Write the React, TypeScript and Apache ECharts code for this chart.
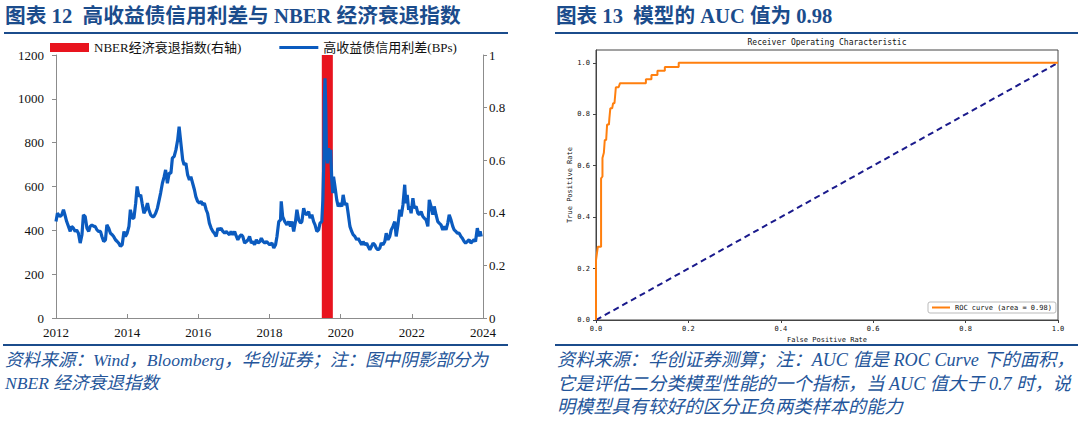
import React, { useEffect, useRef } from 'react';
import * as echarts from 'echarts';

// ---------- Left chart data ----------
const spreadDates = [
  2012.00,2012.04,2012.11,2012.16,2012.21,2012.25,2012.30,2012.35,2012.40,2012.44,
  2012.49,2012.54,2012.58,2012.63,2012.68,2012.73,2012.77,2012.82,2012.87,2012.92,
  2012.96,2013.01,2013.06,2013.10,2013.15,2013.20,2013.25,2013.29,2013.34,2013.39,
  2013.43,2013.48,2013.53,2013.58,2013.62,2013.67,2013.72,2013.76,2013.81,2013.86,
  2013.91,2013.95,2014.00,2014.05,2014.09,2014.14,2014.19,2014.24,2014.28,2014.33,
  2014.38,2014.42,2014.47,2014.52,2014.57,2014.61,2014.66,2014.71,2014.75,2014.80,
  2014.85,2014.90,2014.94,2014.99,2015.04,2015.08,2015.13,2015.18,2015.23,2015.27,
  2015.32,2015.37,2015.42,2015.46,2015.51,2015.56,2015.60,2015.65,2015.70,2015.75,
  2015.79,2015.84,2015.89,2015.93,2015.98,2016.03,2016.08,2016.12,2016.17,2016.22,
  2016.26,2016.31,2016.36,2016.41,2016.45,2016.50,2016.55,2016.59,2016.64,2016.69,
  2016.74,2016.78,2016.83,2016.88,2016.92,2016.97,2017.02,2017.07,2017.11,2017.16,
  2017.21,2017.25,2017.30,2017.35,2017.40,2017.44,2017.49,2017.54,2017.58,2017.63,
  2017.68,2017.73,2017.77,2017.82,2017.87,2017.92,2017.96,2018.01,
  2018.07,2018.12,2018.17,2018.21,2018.26,2018.31,2018.33,2018.37,2018.43,2018.49,
  2018.54,2018.59,2018.63,2018.68,2018.73,2018.77,2018.82,2018.87,2018.91,2018.96,
  2019.00,2019.05,2019.10,2019.14,2019.19,2019.24,2019.28,2019.33,2019.38,2019.42,
  2019.47,2019.50,2019.53,2019.54,2019.56,2019.58,2019.60,2019.63,2019.66,2019.69,
  2019.72,2019.75,2019.78,2019.80,2019.84,2019.89,2019.93,2019.98,2020.03,2020.07,
  2020.12,2020.17,2020.21,2020.26,2020.31,2020.35,2020.40,2020.45,2020.49,2020.54,
  2020.59,2020.63,2020.68,2020.73,2020.77,2020.82,2020.87,2020.91,2020.96,2021.00,
  2021.05,2021.10,2021.14,2021.19,2021.24,2021.28,2021.33,2021.38,2021.42,2021.47,
  2021.52,2021.56,2021.61,2021.66,2021.70,2021.75,2021.80,2021.83,2021.87,2021.91,
  2021.94,2021.98,2022.03,2022.07,2022.12,2022.17,2022.21,2022.26,2022.31,2022.35,
  2022.40,2022.45,2022.49,2022.54,2022.59,2022.63,2022.68,2022.73,2022.77,2022.82,
  2022.87,2022.91,2022.96,2023.01,2023.05,2023.10,2023.15,2023.19,2023.24,2023.28,
  2023.33,2023.38,2023.42,2023.47,2023.51,2023.56,2023.61,2023.66,2023.70,2023.75,
  2023.79,2023.84,2023.89,2023.92,2023.95,
];
const spreadValues = [
  440,478,463,470,494,471,440,418,395,418,
  410,395,402,387,342,380,471,463,410,395,
  418,425,418,418,402,395,395,372,349,357,
  425,410,387,380,372,357,349,342,327,334,
  395,372,387,418,494,456,456,524,600,554,
  562,524,478,494,524,494,471,463,463,478,
  501,539,570,615,645,676,615,661,661,729,
  737,767,813,873,797,722,699,706,653,630,
  645,615,585,554,532,524,532,516,524,494,
  478,433,410,395,387,372,410,402,410,395,
  387,395,387,380,395,380,395,372,357,372,
  380,372,342,349,357,372,342,349,334,357,
  342,349,364,349,342,349,342,334,
  342,319,334,372,440,448,532,463,440,425,
  440,418,440,395,440,494,448,433,440,501,
  478,471,486,456,471,440,425,395,402,433,
  440,539,737,995,1094,965,752,706,775,745,
  767,630,570,645,600,539,509,524,509,562,
  516,524,478,418,395,380,372,357,364,349,
  334,349,334,342,327,311,327,342,334,319,
  311,319,342,334,349,387,357,372,402,418,
  440,372,425,494,463,516,608,524,562,494,
  509,478,547,501,509,478,471,486,463,456,
  448,418,539,509,471,509,471,440,433,425,
  402,418,402,433,471,448,418,402,395,387,
  387,372,364,349,342,349,357,342,349,357,
  349,410,372,395,372,
];
const nberPeriods = [[2019.47, 2019.78]];
const nberValues = [1];
const leftYTicks = [0, 200, 400, 600, 800, 1000, 1200];
const rightYTicks = [0, 0.2, 0.4, 0.6, 0.8, 1];
const xYears = [2012, 2014, 2016, 2018, 2020, 2022, 2024];

// ---------- Right chart data ----------
const rocFpr = [0,0,0.004,0.011,0.011,0.014,0.014,0.017,0.019,0.022,0.024,0.028,0.029,0.031,0.035,0.037,0.040,0.043,0.049,0.052,0.108,0.108,0.120,0.120,0.133,0.133,0.149,0.149,0.179,0.179,1.0];
const rocTpr = [0,0.233,0.285,0.285,0.551,0.558,0.63,0.65,0.70,0.70,0.76,0.76,0.785,0.823,0.823,0.843,0.843,0.905,0.905,0.921,0.921,0.936,0.936,0.953,0.953,0.969,0.969,0.984,0.984,1.0,1.0];
const diagX = [0, 1];
const diagY = [0, 1];
const rocTicks = [0, 0.2, 0.4, 0.6, 0.8, 1.0];

const NBER_NAME = 'NBER经济衰退指数(右轴)';
const SPREAD_NAME = '高收益债信用利差(BPs)';
const ROC_NAME = 'ROC curve (area = 0.98)';

const FONT_SERIF = '"Liberation Serif", "Noto Sans CJK SC", serif';
const FONT_MONO = '"DejaVu Sans Mono", "Noto Sans CJK SC", monospace';
const TITLE_BLUE = '#1B4C8C';
const SRC_BLUE = '#24559A';

function buildOption() {
  const spreadData = spreadDates.map((d, i) => [d, spreadValues[i]]);
  const nberData = nberPeriods.map((p, i) => [p[0], p[1], nberValues[i]]);
  const rocData = rocFpr.map((x, i) => [x, rocTpr[i]]);
  const diagData = diagX.map((x, i) => [x, diagY[i]]);

  const leftAxisLine = { show: true, lineStyle: { color: '#8c8c8c', width: 1 } };
  const serifLabel = { fontFamily: FONT_SERIF, fontSize: 13, color: '#111' };
  const monoLabel = { fontFamily: FONT_MONO, fontSize: 7, color: '#111' };
  const srcText = (text: string, x: number, y: number, size: number) => ({
    type: 'text', x, y,
    style: { text, fontFamily: FONT_SERIF, fontSize: size, fontStyle: 'italic', fill: SRC_BLUE, textVerticalAlign: 'middle' },
  });

  return {
    animation: false,
    backgroundColor: '#fff',
    grid: [
      { left: 56, top: 55, width: 427, height: 263 },
      { left: 596, top: 50, width: 462, height: 270, show: true, borderColor: '#444', borderWidth: 1, backgroundColor: 'transparent' },
    ],
    legend: [
      {
        left: 50, top: 41, padding: 0, itemWidth: 39, itemHeight: 9, itemGap: 38,
        selectedMode: false,
        data: [
          { name: NBER_NAME, icon: 'rect' },
          { name: SPREAD_NAME, icon: 'path://M0,0 L39,0 L39,3 L0,3 Z' },
        ],
        textStyle: { fontFamily: FONT_SERIF, fontSize: 13, color: '#111' },
      },
      {
        left: 928, top: 302, padding: [2, 4, 2, 4], itemWidth: 18, itemHeight: 8,
        selectedMode: false,
        borderColor: '#bbb', borderWidth: 1, borderRadius: 2,
        data: [{ name: ROC_NAME, icon: 'path://M0,0 L18,0 L18,2 L0,2 Z' }],
        textStyle: { fontFamily: FONT_MONO, fontSize: 7, color: '#111' },
      },
    ],
    xAxis: [
      {
        type: 'value', gridIndex: 0, min: xYears[0], max: xYears[xYears.length - 1], interval: 2,
        axisLine: leftAxisLine,
        axisTick: { show: true, inside: true, length: 4, lineStyle: { color: '#8c8c8c' } },
        splitLine: { show: false },
        axisLabel: { ...serifLabel, margin: 8, formatter: (v: number) => String(v) },
      },
      {
        type: 'value', gridIndex: 1, min: 0, max: 1, interval: 0.2,
        axisLine: { show: true, lineStyle: { color: '#444' } },
        axisTick: { show: true, length: 3, lineStyle: { color: '#444' } },
        splitLine: { show: false },
        axisLabel: { ...monoLabel, margin: 5, formatter: (v: number) => v.toFixed(1) },
        name: 'False Positive Rate', nameLocation: 'middle', nameGap: 15,
        nameTextStyle: { fontFamily: FONT_MONO, fontSize: 7, color: '#111' },
      },
    ],
    yAxis: [
      {
        type: 'value', gridIndex: 0, position: 'left', min: leftYTicks[0], max: leftYTicks[leftYTicks.length - 1], interval: 200,
        axisLine: leftAxisLine,
        axisTick: { show: true, length: 4, lineStyle: { color: '#8c8c8c' } },
        splitLine: { show: false },
        axisLabel: { ...serifLabel, margin: 12, formatter: (v: number) => String(v) },
      },
      {
        type: 'value', gridIndex: 0, position: 'right', min: rightYTicks[0], max: rightYTicks[rightYTicks.length - 1], interval: 0.2,
        axisLine: leftAxisLine,
        axisTick: { show: true, length: 4, lineStyle: { color: '#8c8c8c' } },
        splitLine: { show: false },
        axisLabel: { ...serifLabel, margin: 6, formatter: (v: number) => String(Math.round(v * 10) / 10) },
      },
      {
        type: 'value', gridIndex: 1, min: 0, max: 1.05, interval: 0.2,
        axisLine: { show: true, lineStyle: { color: '#444' } },
        axisTick: { show: true, length: 3, lineStyle: { color: '#444' }, customValues: rocTicks },
        splitLine: { show: false },
        axisLabel: { ...monoLabel, margin: 6, customValues: rocTicks, formatter: (v: number) => (v > 1.001 ? '' : v.toFixed(1)) },
        name: 'True Positive Rate', nameLocation: 'middle', nameGap: 22, nameRotate: 90,
        nameTextStyle: { fontFamily: FONT_MONO, fontSize: 7, color: '#111' },
      },
    ],
    series: [
      {
        name: NBER_NAME, type: 'custom', xAxisIndex: 0, yAxisIndex: 1, z: 1,
        data: nberData,
        encode: { x: [0, 1], y: 2 },
        itemStyle: { color: '#E8141E' },
        renderItem: (params: any, api: any) => {
          const p0 = api.coord([api.value(0), api.value(2)]);
          const p1 = api.coord([api.value(1), 0]);
          return {
            type: 'rect',
            shape: { x: p0[0], y: p0[1], width: p1[0] - p0[0], height: p1[1] - p0[1] },
            style: { fill: '#E8141E' },
          };
        },
      },
      {
        name: SPREAD_NAME, type: 'line', xAxisIndex: 0, yAxisIndex: 0, z: 3,
        data: spreadData, showSymbol: false, symbol: 'none',
        lineStyle: { color: '#0B5BBF', width: 3.2 },
        itemStyle: { color: '#0B5BBF' },
      },
      {
        name: 'diag', type: 'line', xAxisIndex: 1, yAxisIndex: 2, z: 2,
        data: diagData, showSymbol: false, symbol: 'none',
        lineStyle: { color: '#1A1A8C', width: 2, type: [6, 4] },
      },
      {
        name: ROC_NAME, type: 'line', xAxisIndex: 1, yAxisIndex: 2, z: 3,
        data: rocData, showSymbol: false, symbol: 'none',
        lineStyle: { color: '#FF7F0E', width: 2 },
        itemStyle: { color: '#FF7F0E' },
      },
    ],
    graphic: [
      { type: 'text', x: 5, y: 16, style: { text: '图表 12  高收益债信用利差与 NBER 经济衰退指数', fontFamily: FONT_SERIF, fontSize: 20.7, fontWeight: 'bold', fill: TITLE_BLUE, textVerticalAlign: 'middle' } },
      { type: 'line', shape: { x1: 4, y1: 33, x2: 508, y2: 33 }, style: { stroke: TITLE_BLUE, lineWidth: 2 } },
      { type: 'text', x: 556, y: 16, style: { text: '图表 13  模型的 AUC 值为 0.98', fontFamily: FONT_SERIF, fontSize: 20.6, fontWeight: 'bold', fill: TITLE_BLUE, textVerticalAlign: 'middle' } },
      { type: 'line', shape: { x1: 555, y1: 33, x2: 1078, y2: 33 }, style: { stroke: TITLE_BLUE, lineWidth: 2 } },
      { type: 'text', x: 827, y: 42, style: { text: 'Receiver Operating Characteristic', fontFamily: FONT_MONO, fontSize: 8, fill: '#111', textAlign: 'center', textVerticalAlign: 'middle' } },
      { type: 'line', shape: { x1: 3, y1: 345, x2: 508, y2: 345 }, style: { stroke: TITLE_BLUE, lineWidth: 2 } },
      { type: 'line', shape: { x1: 555, y1: 345, x2: 1078, y2: 345 }, style: { stroke: TITLE_BLUE, lineWidth: 2 } },
      srcText('资料来源：Wind，Bloomberg，华创证券；注：图中阴影部分为', 5, 360, 17.6),
      srcText('NBER 经济衰退指数', 5, 383, 17.6),
      srcText('资料来源：华创证券测算；注：AUC 值是 ROC Curve 下的面积，', 557, 360, 18.2),
      srcText('它是评估二分类模型性能的一个指标，当 AUC 值大于 0.7 时，说', 557, 384, 18.2),
      srcText('明模型具有较好的区分正负两类样本的能力', 557, 407, 18.2),
    ],
  };
}

export default function App() {
  const ref = useRef<HTMLDivElement>(null);
  useEffect(() => {
    if (!ref.current) return;
    const chart = echarts.init(ref.current, null, { renderer: 'svg' });
    chart.setOption(buildOption() as any);
    return () => chart.dispose();
  }, []);
  return (
    <div
      ref={ref}
      style={{ position: 'absolute', left: 0, top: 0, width: 1080, height: 421, background: '#fff' }}
    />
  );
}
